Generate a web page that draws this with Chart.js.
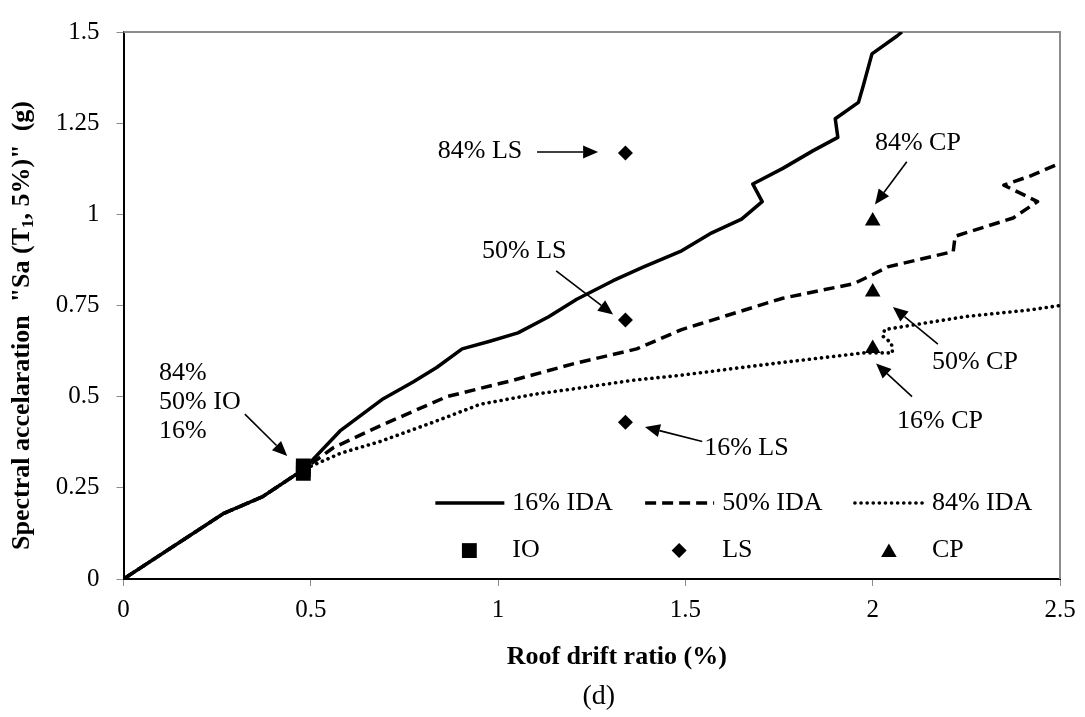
<!DOCTYPE html>
<html>
<head>
<meta charset="utf-8">
<script src="https://cdn.jsdelivr.net/npm/chart.js@4"></script>
<style>
  html, body { margin: 0; padding: 0; background: #fff; }
  #wrap { width: 1085px; height: 717px; }
</style>
</head>
<body>
<div id="wrap"><canvas id="idaChart"></canvas></div>
<script>
// Roof drift ratio (%) / Sa (g) pairs for the three IDA fractile curves
const ida16X = [0, 0.266, 0.37, 0.48, 0.578, 0.69, 0.773, 0.836, 0.904, 0.978, 1.053, 1.135, 1.21, 1.307, 1.387, 1.49, 1.566, 1.65, 1.705, 1.68, 1.76, 1.84, 1.907, 1.9, 1.962, 1.975, 1.998, 2.065, 2.078];
const ida16Y = [0, 0.179, 0.225, 0.30, 0.406, 0.492, 0.54, 0.58, 0.631, 0.652, 0.675, 0.719, 0.767, 0.818, 0.855, 0.90, 0.947, 0.987, 1.035, 1.083, 1.126, 1.174, 1.211, 1.262, 1.307, 1.353, 1.44, 1.489, 1.5];

const ida50X = [0, 0.266, 0.37, 0.48, 0.56, 0.685, 0.863, 1.04, 1.2, 1.37, 1.49, 1.54, 1.70, 1.76, 1.95, 2.0, 2.04, 2.215, 2.22, 2.375, 2.44, 2.35, 2.42, 2.5];
const ida50Y = [0, 0.179, 0.225, 0.30, 0.36, 0.42, 0.50, 0.545, 0.59, 0.631, 0.684, 0.70, 0.751, 0.77, 0.81, 0.835, 0.856, 0.898, 0.94, 0.99, 1.035, 1.08, 1.105, 1.14];

const ida84X = [0, 0.266, 0.37, 0.48, 0.58, 0.685, 0.827, 0.952, 1.1, 1.22, 1.36, 1.49, 1.65, 1.76, 1.975, 2.053, 2.05, 2.027, 2.032, 2.25, 2.42, 2.5];
const ida84Y = [0, 0.179, 0.225, 0.30, 0.345, 0.377, 0.43, 0.479, 0.507, 0.524, 0.545, 0.559, 0.58, 0.594, 0.62, 0.62, 0.647, 0.666, 0.684, 0.72, 0.738, 0.75];

// performance levels (16%, 50%, 84%)
const ioX = [0.48, 0.48, 0.48];
const ioY = [0.29, 0.30, 0.31];
const lsX = [1.34, 1.34, 1.34];
const lsY = [0.43, 0.71, 1.168];
const cpX = [2.0, 2.0, 2.0];
const cpY = [0.632, 0.787, 0.982];

const xTicks = [0, 0.5, 1, 1.5, 2, 2.5];
const yTicks = [0, 0.25, 0.5, 0.75, 1, 1.25, 1.5];

// callout labels: text lines, text anchor (left, middle) and arrow tail/tip, all in data units
const callouts = [
  { lines: ['84%', '50% IO', '16%'], at: [0.095, 0.484], from: [0.324, 0.452], to: [0.437, 0.337] },
  { lines: ['84% LS'], at: [0.839, 1.174], from: [1.104, 1.171], to: [1.267, 1.171] },
  { lines: ['50% LS'], at: [0.957, 0.898], from: [1.155, 0.845], to: [1.307, 0.725] },
  { lines: ['16% LS'], at: [1.55, 0.358], from: [1.545, 0.377], to: [1.392, 0.417] },
  { lines: ['84% CP'], at: [2.006, 1.195], from: [2.091, 1.144], to: [2.006, 1.027] },
  { lines: ['50% CP'], at: [2.158, 0.594], from: [2.174, 0.644], to: [2.054, 0.746] },
  { lines: ['16% CP'], at: [2.065, 0.433], from: [2.105, 0.50], to: [2.009, 0.591] }
];

const pts = (xs, ys) => xs.map((x, i) => ({ x, y: ys[i] }));
const SERIF = "'Liberation Serif', 'Times New Roman', serif";

Chart.defaults.font.family = SERIF;
Chart.defaults.color = '#000';

function lineSet(label, xs, ys, dash, width) {
  return {
    label,
    data: pts(xs, ys),
    showLine: true,
    borderColor: '#000',
    borderWidth: width,
    borderDash: dash,
    borderCapStyle: dash.length && dash[0] < 1 ? 'round' : 'butt',
    borderJoinStyle: 'round',
    pointRadius: 0,
    tension: 0
  };
}

function markerSet(label, xs, ys, style, radius) {
  return {
    label,
    data: pts(xs, ys),
    showLine: false,
    pointStyle: style,
    pointRadius: radius,
    pointBackgroundColor: '#000',
    pointBorderColor: '#000',
    pointBorderWidth: 0
  };
}

const datasets = [
  markerSet('IO', ioX, ioY, 'rect', 10.5),
  markerSet('LS', lsX, lsY, 'rectRot', 7.5),
  markerSet('CP', cpX, cpY, 'triangle', 9),
  lineSet('16% IDA', ida16X, ida16Y, [], 3.5),
  lineSet('50% IDA', ida50X, ida50Y, [11, 6], 3.5),
  lineSet('84% IDA', ida84X, ida84Y, [0.1, 6], 3.6)
];

function arrow(ctx, x1, y1, x2, y2) {
  const a = Math.atan2(y2 - y1, x2 - x1);
  const head = 15, half = 6.5;
  const bx = x2 - head * Math.cos(a), by = y2 - head * Math.sin(a);
  ctx.beginPath();
  ctx.moveTo(x1, y1);
  ctx.lineTo(bx, by);
  ctx.stroke();
  ctx.beginPath();
  ctx.moveTo(x2, y2);
  ctx.lineTo(bx + half * Math.sin(a), by - half * Math.cos(a));
  ctx.lineTo(bx - half * Math.sin(a), by + half * Math.cos(a));
  ctx.closePath();
  ctx.fill();
}

// frame, callouts, in-plot key and axis titles
const decorations = {
  id: 'decorations',
  beforeDatasetsDraw(chart) {
    const { ctx, chartArea: a } = chart;
    ctx.save();
    ctx.strokeStyle = '#8c8c8c';
    ctx.lineWidth = 2;
    ctx.beginPath();
    ctx.moveTo(a.left, a.top);
    ctx.lineTo(a.right, a.top);
    ctx.lineTo(a.right, a.bottom);
    ctx.stroke();
    ctx.restore();
  },
  afterDatasetsDraw(chart) {
    const { ctx, chartArea: a, scales: { x, y } } = chart;
    ctx.save();
    ctx.fillStyle = '#000';
    ctx.strokeStyle = '#000';
    ctx.lineWidth = 1.6;
    ctx.font = '26px ' + SERIF;
    ctx.textAlign = 'left';
    ctx.textBaseline = 'middle';

    callouts.forEach(c => {
      const tx = x.getPixelForValue(c.at[0]);
      const ty = y.getPixelForValue(c.at[1]);
      const step = 29;
      const mid = (c.lines.length - 1) / 2;
      c.lines.forEach((t, i) => ctx.fillText(t, tx, ty + (i - mid) * step));
      arrow(ctx, x.getPixelForValue(c.from[0]), y.getPixelForValue(c.from[1]),
        x.getPixelForValue(c.to[0]), y.getPixelForValue(c.to[1]));
    });

    // key: curves on the upper row, performance levels below
    const w = a.right - a.left, h = a.bottom - a.top;
    const cols = [0.333, 0.557, 0.781];
    const row1 = a.top + 0.861 * h;
    const row2 = a.top + 0.948 * h;
    const lines = chart.data.datasets.slice(3);
    const marks = chart.data.datasets.slice(0, 3);
    cols.forEach((c, i) => {
      const x0 = a.left + c * w;
      const ds = lines[i];
      ctx.save();
      ctx.lineWidth = ds.borderWidth;
      ctx.setLineDash(ds.borderDash);
      ctx.lineCap = ds.borderCapStyle;
      ctx.beginPath();
      ctx.moveTo(x0, row1);
      ctx.lineTo(x0 + 69, row1);
      ctx.stroke();
      ctx.restore();
      ctx.fillText(ds.label, x0 + 77, row1);

      const m = marks[i];
      Chart.helpers.drawPoint(ctx, {
        pointStyle: m.pointStyle,
        radius: m.pointRadius,
        rotation: 0,
        borderWidth: 0
      }, x0 + 34, row2 + (m.pointStyle === 'triangle' ? 2 : 0));
      ctx.fillText(m.label, x0 + 77, row2);
    });
    ctx.restore();
  },
  afterDraw(chart) {
    const { ctx, chartArea: a } = chart;
    ctx.save();
    ctx.fillStyle = '#000';
    ctx.textBaseline = 'middle';

    // x title and panel tag
    ctx.textAlign = 'center';
    ctx.font = 'bold 26px ' + SERIF;
    const cx = (a.left + a.right) / 2;
    ctx.fillText('Roof drift ratio (%)', cx + 25, 657);
    ctx.font = '28px ' + SERIF;
    ctx.fillText('(d)', cx + 7, 697);

    // y title with subscript
    const big = 'bold 26px ' + SERIF;
    const small = 'bold 17px ' + SERIF;
    const parts = [['Spectral accelaration  "Sa (T', big, 0], ['1', small, 7], [', 5%)"  (g)', big, 0]];
    let total = 0;
    parts.forEach(p => { ctx.font = p[1]; total += ctx.measureText(p[0]).width; });
    ctx.translate(22, (a.top + a.bottom) / 2 + 20);
    ctx.rotate(-Math.PI / 2);
    ctx.textAlign = 'left';
    let pos = -total / 2;
    parts.forEach(p => {
      ctx.font = p[1];
      ctx.fillText(p[0], pos, p[2]);
      pos += ctx.measureText(p[0]).width;
    });
    ctx.restore();
  }
};

new Chart(document.getElementById('idaChart'), {
  type: 'scatter',
  data: { datasets },
  options: {
    responsive: true,
    maintainAspectRatio: false,
    animation: false,
    layout: { padding: { top: 17, right: 25, left: 0, bottom: 0 } },
    plugins: {
      legend: { display: false },
      tooltip: { enabled: false }
    },
    scales: {
      x: {
        type: 'linear',
        min: 0,
        max: 2.5,
        afterBuildTicks: (s) => { s.ticks = xTicks.map(v => ({ value: v })); },
        afterFit: (s) => { s.height = 138; },
        ticks: {
          font: { size: 25 },
          padding: 9,
          maxRotation: 0,
          callback: (v) => String(v)
        },
        grid: { drawOnChartArea: false, tickLength: 7, color: '#8c8c8c' },
        border: { color: '#000', width: 2 }
      },
      y: {
        type: 'linear',
        min: 0,
        max: 1.5,
        afterBuildTicks: (s) => { s.ticks = yTicks.map(v => ({ value: v })); },
        afterFit: (s) => { s.width = 123.5; },
        ticks: {
          font: { size: 25 },
          padding: 17,
          callback: (v) => String(v)
        },
        grid: { drawOnChartArea: false, tickLength: 7, color: '#8c8c8c' },
        border: { color: '#000', width: 2 }
      }
    }
  },
  plugins: [decorations]
});
</script>
</body>
</html>
